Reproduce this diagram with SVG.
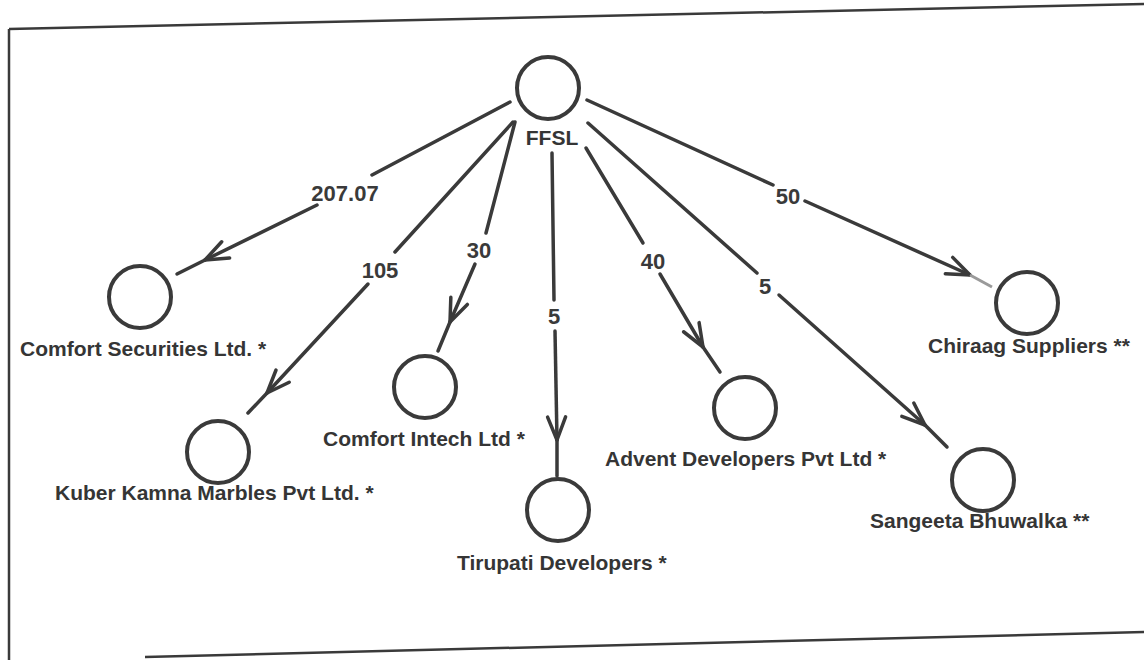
<svg xmlns="http://www.w3.org/2000/svg" width="1144" height="660" viewBox="0 0 1144 660">
<style>
.bg{fill:#ffffff}
.frame{stroke:#3a3a3a;stroke-width:2.5;fill:none}
.node{fill:none;stroke:#3a3a3a;stroke-width:4}
.lbl{font-family:"Liberation Sans",Arial,sans-serif;font-weight:bold;font-size:21px;fill:#353535}
.num{font-family:"Liberation Sans",Arial,sans-serif;font-weight:bold;font-size:22px;fill:#3a3a3a;text-anchor:middle}
.edge{stroke:#3a3a3a;stroke-width:3.5;fill:none;stroke-linecap:round}
.faded{stroke:#9a9a9a;stroke-width:3;fill:none}
</style>
<defs>
<marker id="arr" markerUnits="userSpaceOnUse" viewBox="-26 -13 30 26" refX="0" refY="0" markerWidth="30" markerHeight="26" orient="auto" overflow="visible">
<path d="M-23,-9 L0,0 L-23,9" fill="none" stroke="#3a3a3a" stroke-width="3.5" stroke-linecap="round" stroke-linejoin="round"/>
</marker>
</defs>
<rect class="bg" x="0" y="0" width="1144" height="660"/>
<g id="frame">
<line class="frame" x1="9" y1="29" x2="1144" y2="4"/>
<line class="frame" x1="9" y1="29" x2="9" y2="660"/>
<line class="frame" x1="145" y1="657" x2="1144" y2="632"/>
</g>
<g id="connectors">
<g id="e-cs">
<line class="edge" x1="510" y1="102" x2="372" y2="175"/>
<text class="num" x="345" y="201">207.07</text>
<line class="edge" x1="317" y1="205" x2="205" y2="260" marker-end="url(#arr)"/>
<line class="edge" x1="205" y1="260" x2="177" y2="274"/>
</g>
<g id="e-kuber">
<line class="edge" x1="513" y1="122" x2="395" y2="252"/>
<text class="num" x="380" y="278">105</text>
<line class="edge" x1="368" y1="284" x2="267" y2="393" marker-end="url(#arr)"/>
<line class="edge" x1="267" y1="393" x2="248" y2="413"/>
</g>
<g id="e-intech">
<line class="edge" x1="515" y1="122" x2="486" y2="233"/>
<text class="num" x="479" y="258">30</text>
<line class="edge" x1="475" y1="264" x2="450" y2="322" marker-end="url(#arr)"/>
<line class="edge" x1="450" y1="322" x2="438" y2="351"/>
</g>
<g id="e-tirupati">
<line class="edge" x1="552" y1="153" x2="554" y2="300"/>
<text class="num" x="554" y="324">5</text>
<line class="edge" x1="555" y1="331" x2="557" y2="440" marker-end="url(#arr)"/>
<line class="edge" x1="557" y1="440" x2="557" y2="476"/>
</g>
<g id="e-advent">
<line class="edge" x1="586" y1="148" x2="643" y2="243"/>
<text class="num" x="653" y="269">40</text>
<line class="edge" x1="660" y1="274" x2="703" y2="347" marker-end="url(#arr)"/>
<line class="edge" x1="703" y1="347" x2="720" y2="372"/>
</g>
<g id="e-sangeeta">
<line class="edge" x1="588" y1="123" x2="757" y2="273"/>
<text class="num" x="765" y="294">5</text>
<line class="edge" x1="779" y1="295" x2="925" y2="425" marker-end="url(#arr)"/>
<line class="edge" x1="925" y1="425" x2="947" y2="447"/>
</g>
<g id="e-chiraag">
<line class="edge" x1="587" y1="100" x2="773" y2="185"/>
<text class="num" x="788" y="204">50</text>
<line class="edge" x1="805" y1="201" x2="970" y2="275" marker-end="url(#arr)"/>
<line class="faded" x1="970" y1="275" x2="992" y2="287"/>
</g>
</g>
<g id="n-ffsl">
<circle class="node" cx="548" cy="88" r="31"/>
<text class="lbl" x="552" y="145" text-anchor="middle">FFSL</text>
</g>
<g id="n-comfort-securities">
<circle class="node" cx="140" cy="297" r="31"/>
<text class="lbl" x="20" y="356">Comfort Securities Ltd. *</text>
</g>
<g id="n-kuber">
<circle class="node" cx="218" cy="452" r="31"/>
<text class="lbl" x="55" y="500">Kuber Kamna Marbles Pvt Ltd. *</text>
</g>
<g id="n-comfort-intech">
<circle class="node" cx="425" cy="387" r="31"/>
<text class="lbl" x="323" y="446">Comfort Intech Ltd *</text>
</g>
<g id="n-tirupati">
<circle class="node" cx="558" cy="510" r="31"/>
<text class="lbl" x="457" y="570">Tirupati Developers *</text>
</g>
<g id="n-advent">
<circle class="node" cx="745" cy="408" r="31"/>
<text class="lbl" x="605" y="466">Advent Developers Pvt Ltd *</text>
</g>
<g id="n-sangeeta">
<circle class="node" cx="983" cy="480" r="31"/>
<text class="lbl" x="870" y="528">Sangeeta Bhuwalka **</text>
</g>
<g id="n-chiraag">
<circle class="node" cx="1027" cy="303" r="31"/>
<text class="lbl" x="928" y="353">Chiraag Suppliers **</text>
</g>
</svg>
